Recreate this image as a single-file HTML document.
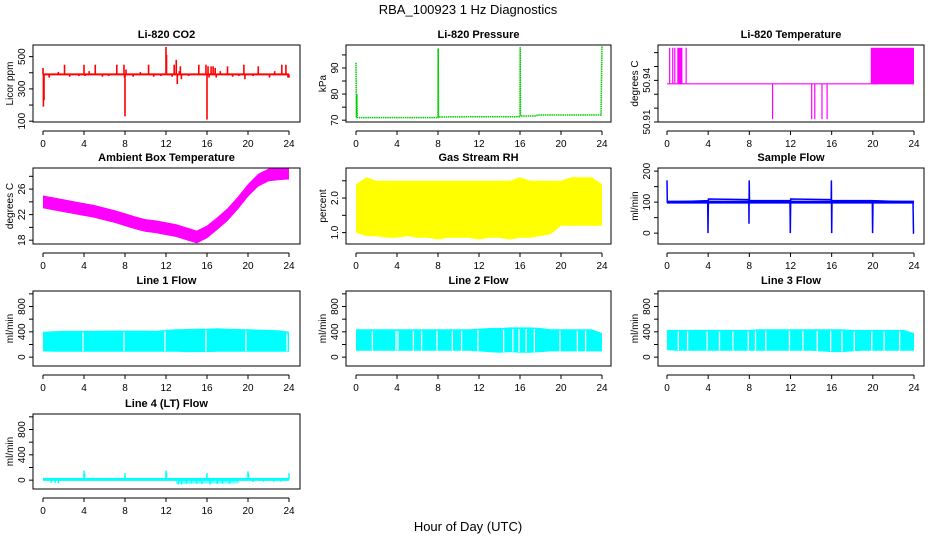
<!DOCTYPE html>
<html><head><meta charset="utf-8"><style>
body{margin:0;background:#fff}
svg{display:block;font-family:"Liberation Sans",Arial,sans-serif}
.t{font-size:11px;font-weight:bold;text-anchor:middle}
.k{font-size:10px}
</style></head><body>
<svg id="c" width="936" height="540" viewBox="0 0 936 540">
<text x="468" y="14" font-size="13" text-anchor="middle">RBA_100923  1 Hz Diagnostics</text>
<text x="468" y="531" font-size="13" text-anchor="middle">Hour of Day (UTC)</text>
</svg>
<script>
// ---- data ----
const xTicks=[0,4,8,12,16,20,24];
const co2Base=390;
const co2Spikes=[[0,430],[0.04,190],[0.1,230],[0.6,370],[1.5,405],[2.1,450],[2.6,375],[3.5,380],[4,450],[4.1,380],[4.5,410],[5.1,450],[5.8,375],[6.4,380],[7.2,450],[7.9,450],[7.95,370],[8,130],[8.1,420],[8.8,375],[9.5,405],[10.3,450],[10.8,375],[11.5,380],[12,560],[12.05,510],[12.6,375],[12.8,450],[13.0,480],[13.1,330],[13.3,410],[13.4,440],[13.5,360],[14.2,380],[15.2,450],[15.9,450],[16,110],[16.1,440],[16.2,370],[16.4,440],[16.6,440],[16.8,430],[16.9,370],[17.3,410],[18,440],[18.5,375],[19.1,380],[19.6,450],[19.7,360],[20.5,380],[21,440],[22.1,370],[22.6,410],[23.3,450],[23.7,450],[23.9,370],[24,370]];
const presPts=[[0,92],[0.04,71],[0.08,80],[0.12,71],[4,71],[8,71],[8.02,97.5],[8.05,71.2],[11,71.3],[16,71.3],[16.02,98],[16.05,71.6],[17.6,71.6],[17.7,72],[23.9,72],[24,98.5]];
const tempBase=50.9375;
const tempTop=50.9635;
const tempBottom=50.912;
const tempUpBars=[[0.2,0.25],[0.5,0.6],[0.7,0.75],[1.0,1.5],[1.8,1.9],[19.8,24]];
const tempDownBars=[[10.2,10.3],[14.0,14.05],[14.3,14.35],[15.0,15.05],[15.5,15.55]];
const hours=[0,1,2,3,4,5,6,7,8,9,10,11,12,13,14,15,16,17,18,19,20,21,22,23,24];
const ambMid=[24,23.7,23.4,23.1,22.8,22.5,22.1,21.7,21.2,20.7,20.3,20.1,19.8,19.5,19.0,18.5,19.3,20.6,22.0,23.8,25.8,27.4,28.2,28.4,28.5];
const ambHalf=1.0;
const rhLo=[1.0,0.9,0.9,0.85,0.85,0.9,0.85,0.85,0.8,0.85,0.85,0.85,0.8,0.85,0.85,0.8,0.85,0.85,0.9,0.95,1.2,1.2,1.2,1.2,1.2];
const rhHi=[2.4,2.6,2.5,2.5,2.5,2.5,2.5,2.5,2.5,2.5,2.5,2.5,2.5,2.5,2.5,2.5,2.6,2.5,2.5,2.5,2.5,2.6,2.6,2.6,2.4];
const sfPts=[[0,170],[0.03,100],[3.95,105],[3.98,0],[4.02,110],[7.95,108],[7.97,30],[7.99,170],[8.02,105],[11.95,105],[11.98,0],[12.02,110],[15.95,108],[15.97,170],[16.0,0],[16.03,105],[19.95,105],[19.98,0],[20.02,105],[23.9,100],[23.95,0],[24,0]];
const f1Lo=[90,85,85,85,85,85,85,85,85,85,85,85,85,85,80,80,80,85,85,85,85,85,85,85,85];
const f1Hi=[400,410,415,415,415,415,420,420,420,420,420,415,430,440,445,450,450,455,450,445,440,435,430,425,400];
const f1Gaps=[3.9,7.9,11.9,15.9,19.8,23.8];
const f2Lo=[100,100,100,100,100,100,100,100,100,100,100,100,90,80,70,80,70,70,80,90,90,90,90,90,90];
const f2Hi=[440,440,440,440,440,440,440,440,440,440,440,440,450,460,460,470,470,470,460,440,440,440,440,440,380];
const f2Gaps=[1.6,3.9,4.1,5.6,6.4,7.9,9.4,10.3,11.9,14.4,15.3,15.9,16.6,17.4,19.9,21.6,22.4];
const f3Lo=[110,100,100,100,100,100,100,100,100,100,100,100,100,100,100,90,80,80,90,100,100,100,100,100,100];
const f3Hi=[430,430,430,430,430,430,430,430,430,440,440,440,440,440,440,440,440,440,430,430,430,430,430,430,380];
const f3Gaps=[1.1,2.0,3.9,5.1,6.4,7.9,8.6,9.6,11.9,13.2,14.6,15.9,17.0,18.2,19.9,21.1,22.6];
const f4Base=12;
const f4Spikes=[[4,150],[4.05,100],[8,110],[12,150],[12.05,120],[16,110],[20,140],[20.05,100],[24,110],[0.8,-40],[1.2,-40],[1.5,-50],[13.2,-70],[13.5,-70],[14,-60],[14.5,-50],[15,-55],[15.5,-60],[16.3,-70],[17,-60],[17.5,-55],[18.2,-55],[19,-30],[20.5,-30],[21.5,-25],[22.5,-25],[23.2,-25]];
const f4NegHours=[13,19];
const f4NegVal=-55;

// ---- layout ----
const NS="http://www.w3.org/2000/svg";
const svg=document.getElementById('c');
const cols=[{l:33,r:300,x0:43,x24:289},{l:346,r:611,x0:356,x24:602},{l:658,r:924,x0:667,x24:914}];
const rows=[{t:45,b:122},{t:168,b:244},{t:291,b:366},{t:414,b:489}];
function mk(tag,attrs,parent){const e=document.createElementNS(NS,tag);for(const k in attrs)e.setAttribute(k,attrs[k]);(parent||svg).appendChild(e);return e;}
function panel(name,col,row,title,ylab,ymin,ymax,yticks,ylabels){
  const C=cols[col],R=rows[row];
  const g=mk('g',{});
  
  
  const sx=h=>C.x0+(C.x24-C.x0)*h/24;
  const sy=v=>R.b-(v-ymin)/(ymax-ymin)*(R.b-R.t);
  const tt=mk('text',{x:(C.l+C.r)/2,y:R.t-7,class:'t'},g);tt.textContent=title;
  
  
  const yl=mk('text',{class:'k',transform:`translate(${C.l-20},${(R.t+R.b)/2}) rotate(-90)`,'text-anchor':'middle'},g);yl.textContent=ylab;
  
  
  const xa=mk('g',{},g);
  
  
  const ay=R.b+9;
  mk('line',{x1:sx(0),x2:sx(24),y1:ay,y2:ay,stroke:'#000'},xa);
  xTicks.forEach(h=>{mk('line',{x1:sx(h),x2:sx(h),y1:ay,y2:ay+4,stroke:'#000'},xa);
    const t=mk('text',{x:sx(h),y:ay+16,class:'k','text-anchor':'middle'},xa);t.textContent=h;});
  const ya=mk('g',{},g);
  
  
  mk('line',{x1:C.l,x2:C.l,y1:sy(yticks[0]),y2:sy(yticks[yticks.length-1]),stroke:'#000'},ya);
  yticks.forEach((v,i)=>{mk('line',{x1:C.l-4,x2:C.l,y1:sy(v),y2:sy(v),stroke:'#000'},ya);
    if(ylabels[i]){const t=mk('text',{class:'k','text-anchor':'middle',transform:`translate(${C.l-8},${sy(v)}) rotate(-90)`},ya);t.textContent=ylabels[i];}});
  const plot=mk('g',{},g);
  
  
  const clip='cl'+name;const cp=mk('clipPath',{id:clip},g);mk('rect',{x:C.l,y:R.t,width:C.r-C.l,height:R.b-R.t},cp);
  plot.setAttribute('clip-path',`url(#${clip})`);
  return {g,plot,sx,sy,C,R,finish(){mk('rect',{x:C.l,y:R.t,width:C.r-C.l,height:R.b-R.t,fill:'none',stroke:'#000'},g);}};
}
function polyline(p,pts,color,w,extra){const d=pts.map((q,i)=>(i?'L':'M')+p.sx(q[0]).toFixed(1)+','+p.sy(q[1]).toFixed(1)).join('');const e=mk('path',Object.assign({d,fill:'none',stroke:color,'stroke-width':w},extra||{}),p.plot);return e;}
function band(p,lo,hi,color){let d='M'+hours.map((h,i)=>p.sx(h).toFixed(1)+','+p.sy(hi[i]).toFixed(1)).join('L');
  d+='L'+hours.slice().reverse().map((h,j)=>{const i=hours.length-1-j;return p.sx(h).toFixed(1)+','+p.sy(lo[i]).toFixed(1)}).join('L')+'Z';
  const e=mk('path',{d,fill:color},p.plot);return e;}
function spikes(p,base,arr,color,w){arr.forEach(s=>{const e=mk('line',{x1:p.sx(s[0]),x2:p.sx(s[0]),y1:p.sy(base),y2:p.sy(s[1]),stroke:color,'stroke-width':w},p.plot);
  
  });}

// CO2
let p=panel('co2',0,0,'Li-820 CO2','Licor ppm',95,572,[100,200,300,400,500],['100','','300','','500']);
polyline(p,[[0,co2Base],[24,co2Base]],'#f00',2);
spikes(p,co2Base,co2Spikes,'#f00',1.6);p.finish();

// Pressure
p=panel('pressure',1,0,'Li-820 Pressure','kPa',69.3,98.8,[70,75,80,85,90,95],['70','','80','','90','']);
polyline(p,presPts,'#0c0',1.5,{'stroke-dasharray':'1.5,0.7'});p.finish();

// Li-820 temperature
p=panel('li820temp',2,0,'Li-820 Temperature','degrees C',50.91,50.9655,[50.91,50.92,50.93,50.94,50.95,50.96],['50.91','','','50.94','','']);
polyline(p,[[0,tempBase],[24,tempBase]],'#f0f',1.2);
tempUpBars.forEach(b=>{const e=mk('rect',{x:p.sx(b[0]),y:p.sy(tempTop),width:Math.max(1.2,p.sx(b[1])-p.sx(b[0])),height:p.sy(tempBase)-p.sy(tempTop),fill:'#f0f'},p.plot);});
tempDownBars.forEach(b=>{const e=mk('rect',{x:p.sx(b[0]),y:p.sy(tempBase),width:Math.max(1.2,p.sx(b[1])-p.sx(b[0])),height:p.sy(tempBottom)-p.sy(tempBase),fill:'#f0f'},p.plot);});
p.finish();

// Ambient
p=panel('ambient',0,1,'Ambient Box Temperature','degrees C',17.4,29.3,[18,20,22,24,26,28],['18','','22','','26','']);
band(p,ambMid.map(v=>v-ambHalf),ambMid.map(v=>v+ambHalf),'#f0f');p.finish();

// RH
p=panel('rh',1,1,'Gas Stream RH','percent',0.67,2.87,[1.0,1.5,2.0,2.5],['1.0','','2.0','']);
band(p,rhLo,rhHi,'#ff0');p.finish();

// Sample flow
p=panel('sampleflow',2,1,'Sample Flow','ml/min',-35,210,[0,50,100,150,200],['0','','100','','200']);
polyline(p,sfPts,'#00f',1.5);
polyline(p,[[0,100],[24,100]],'#00f',3);p.finish();

// Flows
const flowT=[0,200,400,600,800,1000],flowL=['0','','400','','800',''];
function flow(name,col,row,title,lo,hi,gaps){
  const q=panel(name,col,row,title,'ml/min',-140,1045,flowT,flowL);
  band(q,lo,hi,'#0ff');
  gaps.forEach(h=>{const e=mk('line',{x1:q.sx(h),x2:q.sx(h),y1:q.sy(hi[Math.round(h)]-25),y2:q.sy(lo[Math.round(h)]+10),stroke:'#fff','stroke-width':1.3},q.plot);});
  q.finish();
}
flow('line1flow',0,2,'Line 1 Flow',f1Lo,f1Hi,f1Gaps);
flow('line2flow',1,2,'Line 2 Flow',f2Lo,f2Hi,f2Gaps);
flow('line3flow',2,2,'Line 3 Flow',f3Lo,f3Hi,f3Gaps);
p=panel('line4flow',0,3,'Line 4 (LT) Flow','ml/min',-140,1045,flowT,flowL);
const nb=mk('rect',{x:p.sx(f4NegHours[0]),y:p.sy(f4Base),width:p.sx(f4NegHours[1])-p.sx(f4NegHours[0]),height:p.sy(f4NegVal)-p.sy(f4Base),fill:'#0ff',opacity:0.55},p.plot);


polyline(p,[[0,f4Base],[24,f4Base]],'#0ff',3);
spikes(p,f4Base,f4Spikes,'#0ff',1.5);p.finish();
</script>
</body></html>
